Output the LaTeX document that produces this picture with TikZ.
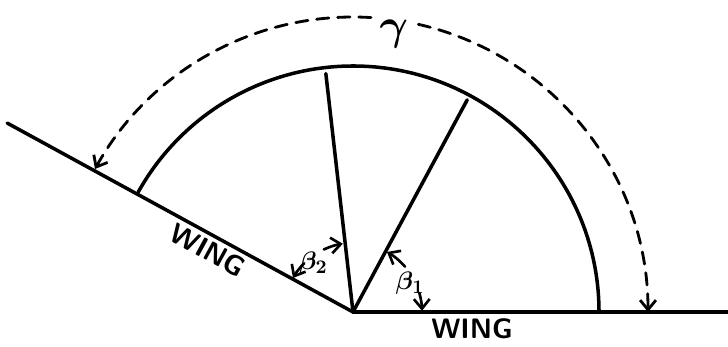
\documentclass[tikz,border=0pt]{standalone}
\usepackage{amsmath,amssymb}
\usetikzlibrary{arrows.meta}
\tikzset{
  wing/.style={font=\fontsize{16}{16}\selectfont\sffamily\bfseries},
  anglabel/.style={font=\fontsize{15}{15}\selectfont,inner sep=0pt},
  sweep/.style={line width=1.6pt,dash pattern=on 7pt off 5pt},
  angarrow/.style={line width=1.5pt,->}
}
\begin{document}
\begin{tikzpicture}[>={Straight Barb[length=5.5pt,width=9pt]},line width=2pt,line cap=round]
  \useasboundingbox (-7.06,-0.7) rectangle (7.5,6.24);
  % ---------------- wings ----------------
  \coordinate (O) at (0,0);
  \coordinate (rw) at (7.5,0);
  \coordinate (lw) at (151.35:7.88);
  \draw (lw) -- (O) -- (rw);
  \node[wing,rotate=-28.65] (wl) at (-2.9,1.24) {WING};
  \node[wing] (wr) at (2.38,-0.34) {WING};
  % ---------------- arc and the two rays ----------------
  \draw (4.92,0) arc[start angle=0,end angle=150.8,radius=4.92];
  \draw (O) -- (96.5:4.8) coordinate (ray2);
  \draw (O) -- (61.7:4.82) coordinate (ray1);
  % ---------------- gamma ----------------
  \node[font=\fontsize{28}{28}\selectfont,inner sep=0pt] (gam) at (81.6:5.62) {$\boldsymbol{\gamma}$};
  \draw[sweep,->] (86.5:5.9) arc[start angle=86.5,end angle=151,radius=5.9];
  \draw[sweep,->] (77.2:5.9) arc[start angle=77.2,end angle=0,radius=5.9];
  % ---------------- beta angles ----------------
  \node[anglabel] (b2) at (129:1.26) {$\boldsymbol{\beta_2}$};
  \draw[angarrow] (115:1.38) arc[start angle=115,end angle=98.5,radius=1.38];
  \draw[angarrow] (135:1.38) arc[start angle=135,end angle=150.5,radius=1.38];
  \node[anglabel] (b1) at (27:1.28) {$\boldsymbol{\beta_1}$};
  \draw[angarrow] (41:1.38) arc[start angle=41,end angle=60.5,radius=1.38];
  \draw[angarrow] (16:1.38) arc[start angle=16,end angle=1,radius=1.38];
\end{tikzpicture}
\end{document}
